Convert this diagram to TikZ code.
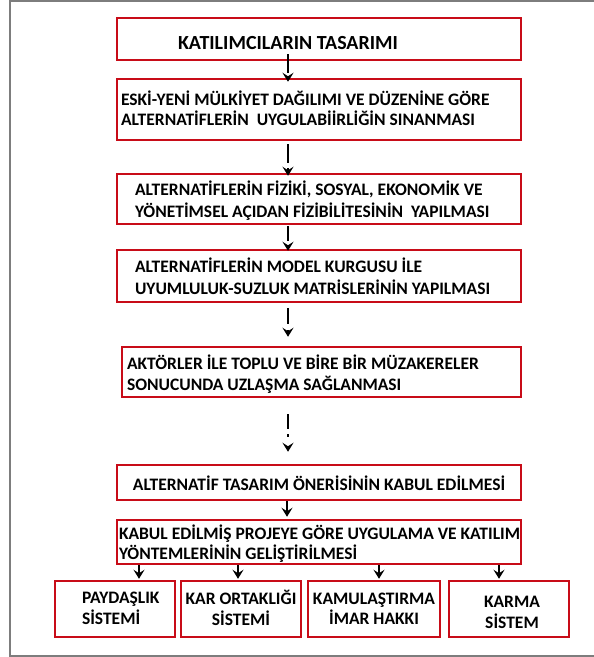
\documentclass[tikz,border=0pt]{standalone}
\usepackage{fontspec}
\setmainfont{Carlito}
\usetikzlibrary{arrows.meta,calc}
\definecolor{boxred}{RGB}{200,12,24}
\definecolor{framegray}{RGB}{125,125,125}
\newcommand\btext[4]{\raisebox{-#2}[0pt][0pt]{\makebox[#1][#3]{\begin{tabular}{@{}#3@{}}#4\end{tabular}}}}
\begin{document}
\begin{tikzpicture}[x=1pt,y=-1pt,
  box/.style={draw=boxred, line width=2.5pt, inner ysep=0pt, text=black,
    font=\bfseries\fontsize{17.5}{20}\selectfont},
  flow/.style={line width=2.2pt, -{Stealth[length=9pt,width=11pt,inset=3.5pt]}},
]
\useasboundingbox (0,0) rectangle (594,657);
\fill[white] (0,0) rectangle (594,657);
\draw[framegray, line width=2pt] (594,1) -- (10,1) -- (10,655.5) -- (594,655.5);

\node[box, minimum width=404pt, minimum height=42pt, inner xsep=61pt,
  font=\bfseries\fontsize{20}{24}\selectfont] (b1) at (319,39)
  {\btext{282pt}{11pt}{l}{KATILIMCILARIN TASARIMI}};
\node[box, minimum width=404pt, minimum height=61pt, inner xsep=4pt,
  font=\bfseries\fontsize{17.5}{19.5}\selectfont] (b2) at (319,109.5)
  {\btext{396pt}{6pt}{l}{ESKİ-YENİ MÜLKİYET DAĞILIMI VE DÜZENİNE GÖRE\\ALTERNATİFLERİN\ \ UYGULABİİRLİĞİN SINANMASI}};
\node[box, minimum width=404pt, minimum height=50pt, inner xsep=18pt,
  font=\bfseries\fontsize{17.5}{22}\selectfont] (b3) at (319,199)
  {\btext{368pt}{7pt}{l}{ALTERNATİFLERİN FİZİKİ, SOSYAL, EKONOMİK VE\\YÖNETİMSEL AÇIDAN FİZİBİLİTESİNİN\ \ YAPILMASI}};
\node[box, minimum width=404pt, minimum height=52pt, inner xsep=18pt,
  font=\bfseries\fontsize{17.5}{22}\selectfont] (b4) at (319,276)
  {\btext{368pt}{7pt}{l}{ALTERNATİFLERİN MODEL KURGUSU İLE\\UYUMLULUK-SUZLUK MATRİSLERİNİN YAPILMASI}};
\node[box, minimum width=399pt, minimum height=50pt, inner xsep=5pt,
  font=\bfseries\fontsize{17.5}{20}\selectfont] (b5) at (321.5,372)
  {\btext{389pt}{8pt}{l}{AKTÖRLER İLE TOPLU VE BİRE BİR MÜZAKERELER\\SONUCUNDA UZLAŞMA SAĞLANMASI}};
\node[box, minimum width=404pt, minimum height=35pt, inner xsep=4pt,
  font=\bfseries\fontsize{17.5}{21}\selectfont] (b6) at (319,482.5)
  {\btext{396pt}{8.3pt}{c}{ALTERNATİF TASARIM ÖNERİSİNİN KABUL EDİLMESİ}};
\node[box, minimum width=404pt, minimum height=44pt, inner xsep=2pt,
  font=\bfseries\fontsize{17.5}{18.5}\selectfont] (b7) at (319,542)
  {\btext{400pt}{7pt}{l}{KABUL EDİLMİŞ PROJEYE GÖRE UYGULAMA VE KATILIM\\YÖNTEMLERİNİN GELİŞTİRİLMESİ}};

\node[box, minimum width=120pt, minimum height=56pt, inner xsep=27pt,
  font=\bfseries\fontsize{17.5}{21}\selectfont] (ba) at (115,609)
  {\btext{66pt}{5pt}{l}{PAYDAŞLIK\\SİSTEMİ}};
\node[box, minimum width=120pt, minimum height=56pt, inner xsep=4pt,
  font=\bfseries\fontsize{17.5}{19}\selectfont] (bb) at (241,609)
  {\btext{112pt}{6pt}{c}{KAR ORTAKLIĞI\\SİSTEMİ}};
\node[box, minimum width=132pt, minimum height=56pt, inner xsep=4pt,
  font=\bfseries\fontsize{17.5}{19}\selectfont] (bc) at (374,609)
  {\btext{124pt}{6pt}{c}{KAMULAŞTIRMA\\İMAR HAKKI}};
\node[box, minimum width=120pt, minimum height=56pt, inner xsep=4pt,
  font=\bfseries\fontsize{17.5}{20}\selectfont] (bd) at (509,609)
  {\btext{112pt}{9.5pt}{c}{\hspace*{6pt}KARMA\\\hspace*{6pt}SİSTEM}};

\coordinate (ax) at (288,0);
\coordinate (ax6) at (287,0);
\coordinate (axa) at (139,0);
\coordinate (axb) at (238,0);
\coordinate (axc) at (379,0);
\coordinate (axd) at (499,0);

\draw[flow, dash pattern=on 19pt off 3pt, shorten <=-7pt, shorten >=-4pt] (b1.south -| ax) -- (b2.north -| ax);
\draw[flow, dash pattern=on 19pt off 5pt, shorten <=3pt, shorten >=-3pt] (b2.south -| ax) -- (b3.north -| ax);
\draw[flow, dash pattern=on 15pt off 4pt, shorten <=1pt, shorten >=-2pt] (b3.south -| ax) -- (b4.north -| ax);
\draw[flow, dash pattern=on 16pt off 6pt, shorten <=5pt, shorten >=9pt] (b4.south -| ax) -- (b5.north -| ax);
\draw[flow, dash pattern=on 15pt off 5pt on 2.5pt off 9pt, shorten <=16pt, shorten >=12pt] (b5.south -| ax) -- (b6.north -| ax);

\draw[flow, shorten >=2pt] (b6.south -| ax6) -- (b7.north -| ax6);
\draw[flow, shorten >=1pt] (b7.south -| axa) -- (ba.north -| axa);
\draw[flow, shorten >=1pt] (b7.south -| axb) -- (bb.north -| axb);
\draw[flow, shorten >=1pt] (b7.south -| axc) -- (bc.north -| axc);
\draw[flow, shorten >=1pt] (b7.south -| axd) -- (bd.north -| axd);
\end{tikzpicture}
\end{document}
